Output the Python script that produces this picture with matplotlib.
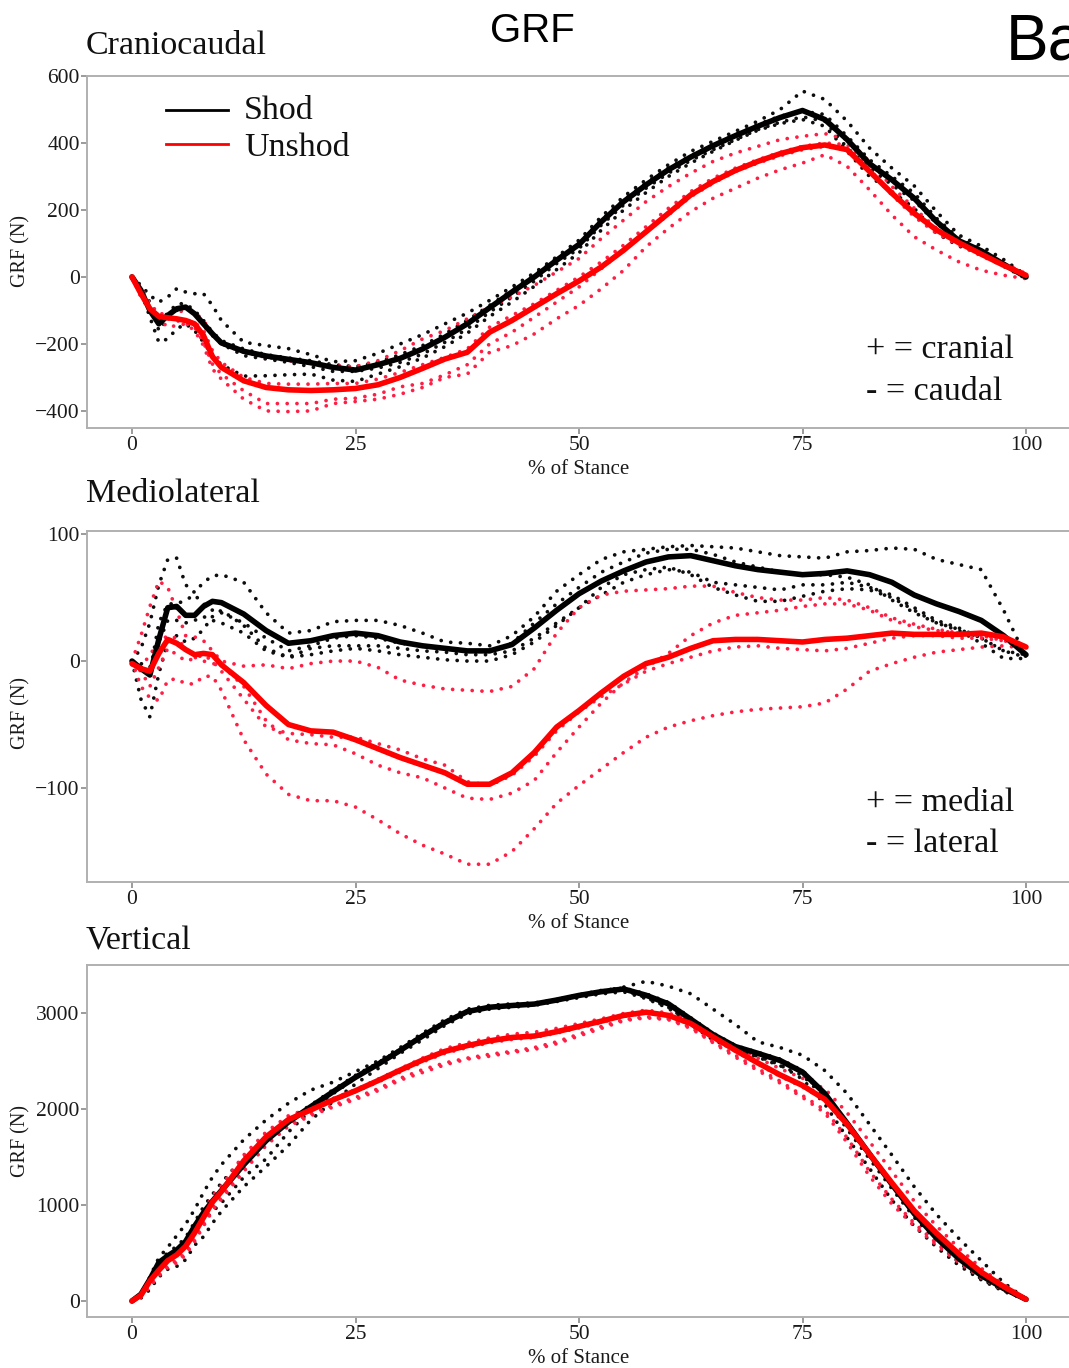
import matplotlib
matplotlib.use('Agg')
import matplotlib.pyplot as plt
from matplotlib.lines import Line2D

W, H = 1069, 1368
SERIF = ['Liberation Serif', 'DejaVu Serif']
SANS = ['Liberation Sans', 'DejaVu Sans']
plt.rcParams['font.family'] = SERIF

# ---------------- data ----------------
stance_pct = [0, 1, 2, 3, 4, 5, 6, 7, 8, 9, 10, 12.5, 15, 17.5, 20, 22.5, 25, 27.5, 30, 32.5, 35,
              37.5, 40, 42.5, 45, 47.5, 50, 52.5, 55, 57.5, 60, 62.5, 65, 67.5, 70, 72.5, 75, 77.5,
              80, 82.5, 85, 87.5, 90, 92.5, 95, 97.5, 100]
x_ticks = [0, 25, 50, 75, 100]

# Craniocaudal
cc_shod_mean = [0, -40, -100, -140, -115, -95, -90, -110, -140, -170, -197,
                -222, -236, -246, -256, -270, -278, -262, -243, -215, -180, -140, -92, -45, 0,
                50, 97, 165, 225, 275, 320, 358, 392, 422, 450, 476, 497, 470, 410, 338, 290, 235, 165, 108, 78, 38, 0]
cc_unshod_mean = [0, -50, -95, -118, -122, -125, -130, -140, -175, -238, -270,
                  -310, -330, -337, -339, -337, -333, -322, -300, -273, -245, -225, -165, -130, -90,
                  -50, -12, 30, 80, 135, 190, 245, 285, 318, 345, 368, 386, 394, 380, 315, 250, 190, 140, 102, 68, 35, 5]
cc_shod_trials = [
    [0, -25, -55, -75, -60, -35, -45, -50, -50, -85, -130,
     -195, -205, -214, -232, -253, -250, -228, -200, -172, -140, -108, -70, -30, 12,
     60, 110, 180, 240, 290, 335, 375, 405, 435, 465, 500, 555, 530, 465, 385, 325, 272, 195, 125, 92, 52, 5],
    [0, -40, -95, -125, -110, -80, -80, -100, -130, -165, -190,
     -215, -232, -242, -250, -262, -268, -255, -232, -205, -170, -130, -85, -40, 5,
     55, 100, 170, 230, 280, 325, 362, 395, 425, 455, 480, 495, 485, 420, 350, 300, 250, 175, 115, 82, 42, 2],
    [0, -40, -120, -195, -185, -155, -140, -160, -195, -235, -262,
     -296, -295, -292, -290, -308, -312, -290, -268, -242, -208, -168, -118, -75, -28,
     22, 72, 140, 200, 252, 300, 340, 375, 408, 438, 458, 470, 450, 375, 300, 255, 205, 130, 92, 70, 32, -5],
    [0, -35, -75, -160, -125, -100, -90, -110, -145, -175, -200,
     -235, -245, -255, -268, -282, -282, -272, -255, -230, -195, -155, -105, -60, -12,
     40, 85, 155, 215, 265, 310, 348, 380, 410, 440, 462, 478, 465, 385, 325, 275, 228, 160, 105, 75, 35, -3],
]
cc_unshod_trials = [
    [0, -30, -80, -110, -110, -105, -100, -105, -130, -170, -200,
     -225, -240, -250, -258, -265, -268, -250, -220, -185, -160, -125, -90, -60, -25,
     15, 55, 115, 170, 225, 270, 310, 345, 370, 390, 410, 420, 428, 410, 345, 270, 205, 145, 105, 70, 40, 10],
    [0, -45, -95, -115, -120, -125, -128, -135, -160, -220, -255,
     -300, -318, -320, -320, -318, -318, -305, -285, -262, -240, -215, -150, -115, -80,
     -40, 0, 45, 95, 150, 205, 255, 295, 325, 350, 372, 390, 400, 395, 320, 250, 190, 140, 100, 68, 35, 5],
    [0, -55, -95, -120, -125, -130, -140, -150, -195, -260, -290,
     -340, -378, -378, -378, -365, -362, -350, -328, -318, -292, -262, -200, -165, -120,
     -75, -30, 25, 80, 135, 185, 240, 280, 315, 340, 362, 380, 390, 380, 315, 245, 180, 130, 95, 63, 32, 5],
    [0, -60, -100, -125, -150, -145, -140, -160, -205, -275, -305,
     -365, -400, -402, -400, -378, -372, -365, -350, -330, -300, -290, -225, -205, -170,
     -125, -85, -35, 20, 90, 145, 195, 235, 265, 295, 320, 340, 365, 330, 260, 185, 120, 80, 45, 20, 5, -5],
]

# Mediolateral
ml_shod_mean = [0, -6, -11, 17, 42, 43, 36, 36, 43, 47, 46,
                37, 24, 14, 16, 20, 22, 20, 15, 12, 10, 8, 8, 13, 26,
                40, 53, 63, 71, 78, 82, 83, 79, 75, 72, 70, 68, 69, 71, 68, 62, 52, 45, 39, 32, 20, 5]
ml_unshod_mean = [-2, -6, -8, 6, 17, 14, 9, 5, 6, 5, -3,
                  -17, -35, -50, -55, -56, -62, -69, -76, -82, -88, -97, -97, -88, -72,
                  -52, -39, -25, -12, -2, 3, 10, 16, 17, 17, 16, 15, 17, 18, 20, 22, 21, 21, 21, 22, 19, 11]
ml_shod_trials = [
    [0, 10, 30, 60, 80, 81, 60, 54, 62, 67, 68,
     62, 38, 22, 24, 31, 32, 32, 28, 22, 15, 14, 12, 20, 35,
     55, 68, 80, 86, 88, 90, 91, 90, 89, 86, 83, 82, 81, 86, 87, 89, 88, 80, 76, 72, 40, 3],
    [0, -5, -10, 30, 45, 45, 48, 52, 45, 40, 38,
     30, 18, 8, 12, 18, 20, 18, 14, 12, 10, 8, 8, 14, 30,
     45, 58, 70, 78, 85, 88, 88, 84, 78, 74, 70, 68, 68, 66, 60, 48, 38, 30, 25, 18, 8, 3],
    [0, -2, -5, 15, 32, 32, 30, 32, 35, 32, 30,
     22, 8, 3, 10, 12, 12, 12, 10, 8, 7, 5, 5, 8, 18,
     30, 42, 52, 62, 68, 72, 70, 62, 60, 58, 56, 60, 60, 62, 58, 52, 42, 32, 26, 18, 8, 5],
    [0, -30, -44, -10, 15, 20, 15, 18, 25, 35, 40,
     28, 10, 3, 5, 8, 10, 8, 5, 3, 1, 0, 0, 5, 15,
     28, 42, 58, 68, 72, 74, 68, 58, 52, 47, 47, 51, 55, 57, 56, 50, 40, 30, 24, 14, 2, 2],
]
ml_unshod_trials = [
    [0, 20, 43, 63, 58, 40, 20, 19, 16, 8, 0,
     -4, -3, -6, -2, 0, 0, -5, -15, -19, -22, -23, -24, -20, -6,
     22, 42, 52, 55, 56, 57, 59, 59, 54, 50, 48, 48, 50, 48, 42, 34, 29, 25, 22, 20, 18, 12],
    [-2, -5, 5, 15, 20, 18, 10, 3, 0, -2, -3,
     -20, -47, -62, -65, -66, -73, -82, -88, -92, -100, -108, -109, -104, -94,
     -72, -52, -33, -17, -5, 6, 20, 30, 36, 38, 40, 43, 45, 45, 40, 32, 27, 24, 22, 20, 16, 12],
    [-3, -8, -20, -5, 10, 5, 0, 2, 5, 0, -8,
     -30, -52, -57, -58, -60, -60, -65, -70, -77, -82, -95, -98, -90, -75,
     -55, -40, -28, -18, -8, -2, 3, 8, 11, 12, 10, 9, 8, 10, 14, 18, 20, 20, 18, 18, 16, 10],
    [0, -20, -29, -31, -15, -14, -18, -18, -12, -12, -23,
     -62, -89, -105, -110, -110, -115, -125, -136, -145, -152, -160, -160, -150, -132,
     -112, -98, -85, -72, -60, -52, -47, -43, -40, -38, -37, -36, -33, -22, -8, -2, 3, 7, 9, 11, 12, 10],
]

# Vertical
v_shod_mean = [0, 70, 225, 400, 470, 530, 620, 779, 920, 1040, 1150,
               1420, 1670, 1865, 2024, 2180, 2330, 2465, 2610, 2760, 2900, 3015, 3060, 3078, 3093,
               3135, 3183, 3222, 3250, 3185, 3095, 2935, 2775, 2650, 2580, 2505, 2385, 2160, 1850, 1530,
               1215, 910, 655, 440, 265, 130, 17]
v_unshod_mean = [0, 60, 208, 320, 420, 480, 570, 709, 870, 1030, 1140,
                 1460, 1710, 1890, 1990, 2095, 2190, 2295, 2405, 2510, 2600, 2660, 2710, 2745, 2760,
                 2805, 2860, 2915, 2975, 3008, 2975, 2890, 2750, 2612, 2480, 2355, 2245, 2100, 1840, 1530,
                 1230, 940, 705, 490, 300, 150, 17]
v_shod_trials = [
    [0, 70, 250, 450, 560, 680, 800, 952, 1130, 1290, 1420,
     1680, 1886, 2060, 2197, 2280, 2390, 2500, 2640, 2790, 2930, 3040, 3080, 3095, 3105,
     3140, 3180, 3225, 3270, 3330, 3280, 3200, 3040, 2880, 2700, 2640, 2560, 2400, 2160, 1840,
     1520, 1190, 900, 650, 420, 190, 20],
    [0, 80, 240, 420, 500, 570, 660, 820, 980, 1110, 1230,
     1500, 1720, 1900, 2040, 2200, 2350, 2480, 2620, 2770, 2910, 3020, 3060, 3080, 3095,
     3140, 3190, 3235, 3260, 3200, 3110, 2950, 2790, 2660, 2590, 2520, 2400, 2170, 1850, 1540,
     1230, 920, 660, 450, 270, 135, 17],
    [0, 30, 120, 250, 330, 360, 430, 580, 670, 810, 934,
     1190, 1401, 1620, 1886, 2080, 2260, 2420, 2580, 2720, 2870, 2990, 3040, 3060, 3080,
     3120, 3160, 3200, 3220, 3150, 3050, 2880, 2720, 2620, 2550, 2460, 2310, 2050, 1700, 1380,
     1050, 780, 560, 370, 220, 100, 15],
    [0, 60, 200, 380, 450, 500, 588, 720, 830, 930, 1021,
     1290, 1480, 1760, 1990, 2160, 2320, 2460, 2600, 2750, 2890, 3010, 3060, 3075, 3090,
     3135, 3180, 3220, 3240, 3160, 3060, 2900, 2750, 2620, 2540, 2450, 2350, 2120, 1790, 1480,
     1170, 870, 620, 400, 230, 110, 17],
]
v_unshod_trials = [
    [0, 70, 230, 350, 450, 520, 620, 760, 930, 1090, 1200,
     1520, 1760, 1930, 2010, 2110, 2200, 2310, 2420, 2530, 2630, 2690, 2740, 2780, 2800,
     2840, 2890, 2940, 2995, 3030, 3000, 2920, 2790, 2660, 2530, 2420, 2320, 2210, 1960, 1660,
     1350, 1040, 780, 550, 340, 170, 20],
    [0, 55, 190, 300, 400, 460, 540, 680, 840, 1000, 1120,
     1440, 1690, 1880, 1985, 2090, 2180, 2280, 2385, 2490, 2580, 2640, 2690, 2725, 2745,
     2790, 2845, 2900, 2965, 3000, 2970, 2880, 2740, 2600, 2470, 2340, 2230, 2090, 1820, 1510,
     1210, 920, 690, 480, 290, 145, 15],
    [0, 45, 160, 270, 370, 420, 500, 640, 800, 960, 1080,
     1380, 1640, 1840, 1950, 2040, 2120, 2210, 2320, 2410, 2480, 2530, 2570, 2600, 2640,
     2700, 2780, 2860, 2930, 2960, 2940, 2850, 2700, 2560, 2420, 2290, 2140, 1990, 1700, 1350,
     1060, 810, 600, 410, 250, 120, 15],
    [0, 40, 150, 260, 350, 400, 480, 620, 780, 940, 1060,
     1350, 1620, 1820, 1930, 2020, 2100, 2190, 2300, 2380, 2460, 2520, 2550, 2590, 2620,
     2680, 2760, 2840, 2920, 2950, 2930, 2840, 2690, 2540, 2400, 2270, 2120, 1960, 1650, 1300,
     1010, 780, 580, 400, 240, 115, 15],
]

panel_titles = ['Craniocaudal', 'Mediolateral', 'Vertical']
legend_labels = ['Shod', 'Unshod']
sign_notes = [['+ = cranial', '- = caudal'], ['+ = medial', '- = lateral'], None]

# ---------------- figure ----------------
fig = plt.figure(figsize=(W / 100, H / 100), dpi=100)


def px_rect(left, top, right, bottom):
    return [left / W, 1 - bottom / H, (right - left) / W, (bottom - top) / H]


def ftext(x, y, s, **kw):
    fig.text(x / W, 1 - y / H, s, **kw)


SHOD_C = '#000000'
UNSHOD_C = '#ff0000'
SHOD_DOT = '#0d0d0d'
UNSHOD_DOT = '#ff1f45'
DOTS = (0, (0.01, 2.6))

panels = [
    dict(rect=px_rect(87.3, 76, 1070.7, 428), ylim=(-451, 600), yticks=[-400, -200, 0, 200, 400, 600],
         shod=cc_shod_mean, unshod=cc_unshod_mean, shod_tr=cc_shod_trials, unshod_tr=cc_unshod_trials,
         title_y=54, xlab_y=474, ylab_y=251, notes_y=(358, 400)),
    dict(rect=px_rect(87.3, 531, 1070.7, 882), ylim=(-174, 102.4), yticks=[-100, 0, 100],
         shod=ml_shod_mean, unshod=ml_unshod_mean, shod_tr=ml_shod_trials, unshod_tr=ml_unshod_trials,
         title_y=502, xlab_y=928, ylab_y=713, notes_y=(811, 852)),
    dict(rect=px_rect(87.3, 965, 1070.7, 1317), ylim=(-167, 3500), yticks=[0, 1000, 2000, 3000],
         shod=v_shod_mean, unshod=v_unshod_mean, shod_tr=v_shod_trials, unshod_tr=v_unshod_trials,
         title_y=949, xlab_y=1363, ylab_y=1141, notes_y=None),
]

for i, p in enumerate(panels):
    ax = fig.add_axes(p['rect'])
    ax.set_xlim(-5, 105)
    ax.set_ylim(*p['ylim'])
    for tr in p['shod_tr']:
        ax.plot(stance_pct, tr, color=SHOD_DOT, lw=2.7, linestyle=DOTS, dash_capstyle='round')
    for tr in p['unshod_tr']:
        ax.plot(stance_pct, tr, color=UNSHOD_DOT, lw=2.7, linestyle=DOTS, dash_capstyle='round')
    ax.plot(stance_pct, p['shod'], color=SHOD_C, lw=4.0, solid_capstyle='round', solid_joinstyle='round')
    ax.plot(stance_pct, p['unshod'], color=UNSHOD_C, lw=4.0, solid_capstyle='round', solid_joinstyle='round')

    ax.set_xticks(x_ticks)
    ax.set_yticks(p['yticks'])
    ax.tick_params(direction='out', length=4, width=1.1, color='#808080', labelsize=15.5,
                   labelcolor='#1a1a1a', pad=1.5)
    for s in ax.spines.values():
        s.set_color('#b0b0b0')
        s.set_linewidth(1.4)

    ftext(86, p['title_y'], panel_titles[i], fontsize=24.5, va='baseline', ha='left', color='#111111')
    ftext(579, p['xlab_y'], '% of Stance', fontsize=15, va='baseline', ha='center', color='#1a1a1a')
    ftext(21, p['ylab_y'], 'GRF (N)', fontsize=14.5, rotation=90, va='center', ha='center', color='#1a1a1a')
    if sign_notes[i] is not None:
        ftext(866, p['notes_y'][0], sign_notes[i][0], fontsize=24.5, va='baseline', ha='left', color='#111111')
        ftext(866, p['notes_y'][1], sign_notes[i][1], fontsize=24.5, va='baseline', ha='left', color='#111111')

    if i == 0:
        fig.add_artist(Line2D([166 / W, 228 / W], [1 - 110 / H, 1 - 110 / H], color=SHOD_C, lw=2.0,
                              transform=fig.transFigure))
        fig.add_artist(Line2D([166 / W, 228 / W], [1 - 144 / H, 1 - 144 / H], color=UNSHOD_C, lw=2.0,
                              transform=fig.transFigure))
        ftext(244, 119, legend_labels[0], fontsize=24.5, va='baseline', ha='left', color='#111111')
        ftext(244, 156, legend_labels[1], fontsize=24.5, va='baseline', ha='left', color='#111111')

# slide header text (the right-hand word is cut by the slide edge in the source)
ftext(532, 41.5, 'GRF', fontsize=29, va='baseline', ha='center', family=SANS, color='#000000')
ftext(1006, 60, 'Ba', fontsize=46, va='baseline', ha='left', family=SANS, color='#000000')

fig.savefig('out.png', dpi=100, facecolor='white')
